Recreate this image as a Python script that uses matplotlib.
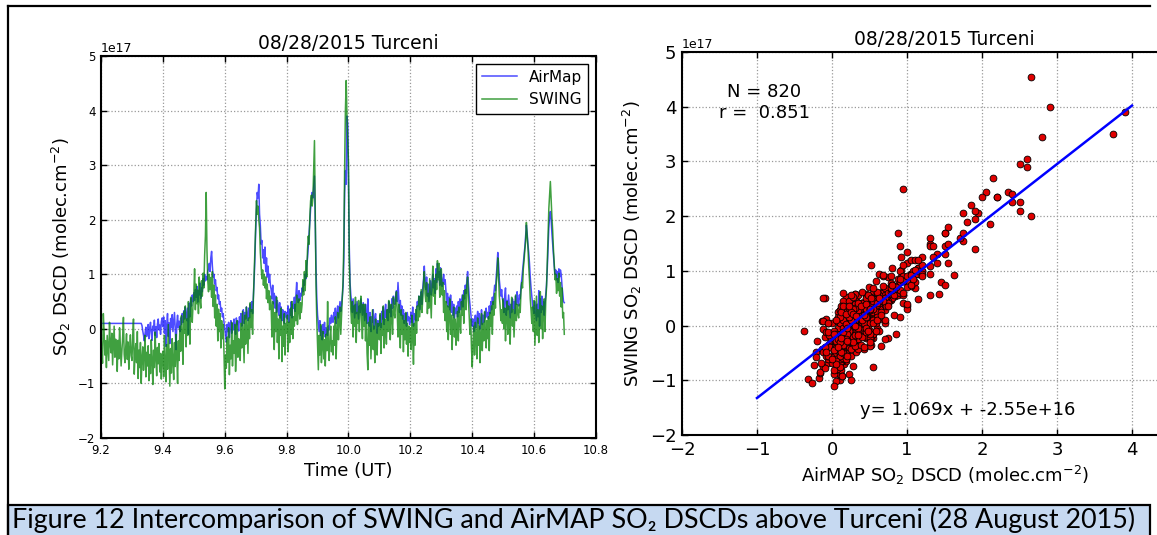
#!/usr/bin/env python3
"""Intercomparison of SWING and AirMAP SO2 DSCDs above Turceni (28 August 2015)."""

import matplotlib

matplotlib.use("Agg")
import matplotlib.pyplot as plt
import numpy as np
from matplotlib.lines import Line2D
from matplotlib.patches import Rectangle

# sampling clock of the flight (hours UT)
T_START = 9.2
T_STEP = 0.0025

# SO2 DSCD in units of 1e17 molec/cm2, one row = 0.05 h
AIRMAP = [
    0.1, 0.1, 0.1, 0.1, 0.1, 0.1, 0.1, 0.1, 0.1, 0.1, 0.1, 0.1, 0.1, 0.1, 0.1, 0.1, 0.1, 0.1, 0.1, 0.1,
    0.1, 0.1, 0.1, 0.1, 0.1, 0.1, 0.1, 0.1, 0.1, 0.1, 0.1, 0.1, 0.1, 0.1, 0.1, 0.1, 0.1, 0.1, 0.1, 0.1,
    0.1, 0.1, 0.1, 0.1, 0.1, 0.1, 0.1, 0.1, 0.1, 0.1, 0.1, 0.1, 0.1, 0.06, -0.04, -0.12, -0.22, -0.08, 0.03, -0.14,
    -0.06, 0.08, -0.18, 0.02, 0.12, -0.09, -0.21, 0.05, -0.03, 0.16, -0.12, 0.04, -0.16, 0.09, 0.18, -0.02, 0.07, -0.1, 0.13, 0.2,
    0.04, 0.22, -0.08, 0.15, -0.32, 0.07, 0.28, -0.14, 0.11, -0.27, 0.19, 0.02, 0.26, -0.05, 0.13, 0.3, 0.0, -0.38, 0.09, 0.25,
    0.02, 0.14, -0.05, 0.2, 0.08, 0.28, 0.12, 0.33, 0.18, 0.4, 0.25, 0.15, 0.38, -0.1, 0.47, 0.22, 0.55, 0.42, 0.62, 0.5,
    0.66, 0.52, 0.72, 0.58, 0.78, 0.49, 0.7, 0.62, 0.84, 0.56, 0.75, 0.68, 0.92, 0.8, 1.0, 0.88, 0.95, 0.9, 1.05, 1.1,
    1.2, 1.05, 1.3, 1.42, 1.15, 0.95, 1.0, 0.82, 0.9, 0.7, 0.76, 0.55, 0.62, 0.45, 0.5, 0.32, 0.38, 0.22, 0.28, 0.12,
    0.02, -0.12, -0.24, 0.08, -0.05, 0.12, -0.16, 0.04, 0.15, -0.08, 0.1, -0.02, 0.18, 0.05, -0.1, 0.2, 0.08, 0.14, -0.04, 0.22,
    0.12, 0.28, 0.05, 0.22, 0.35, 0.1, 0.3, 0.18, 0.4, 0.25, 0.15, 0.38, 0.2, 0.45, 0.32, 0.5, 0.28, 0.6, 0.9, 1.3,
    1.8, 2.2, 2.5, 2.4, 2.65, 2.1, 1.9, 1.55, 1.62, 1.3, 1.45, 1.2, 1.5, 1.05, 1.3, 0.95, 1.15, 0.85, 1.0, 0.8,
    0.72, 0.55, 0.8, 0.46, 0.65, 0.38, 0.6, 0.3, 0.52, 0.42, 0.25, 0.48, 0.2, 0.4, 0.15, 0.35, 0.28, 0.1, 0.32, 0.22,
    0.3, 0.18, 0.42, 0.12, 0.35, 0.25, 0.5, 0.2, 0.45, 0.38, 0.58, 0.32, 0.62, 0.85, 0.55, 0.48, 0.7, 0.52, 0.65, 0.6,
    0.75, 0.68, 0.88, 0.8, 1.0, 0.92, 1.15, 1.3, 1.5, 1.75, 1.95, 2.2, 2.35, 2.5, 2.4, 2.6, 2.8, 1.9, 1.1, 0.55,
    0.25, 0.1, -0.05, 0.15, -0.12, 0.05, -0.2, 0.08, -0.08, 0.12, -0.15, 0.02, -0.1, -0.12, 0.05, -0.02, 0.2, 0.1, 0.25, 0.15,
    0.12, 0.3, 0.18, 0.38, 0.1, 0.28, 0.42, 0.2, 0.35, 0.5, 0.32, 0.45, 0.6, 0.78, 1.3, 2.5, 2.9, 2.65, 3.9, 3.75,
    2.6, 1.5, 0.85, 0.62, 0.48, 0.3, 0.55, 0.38, 0.2, 0.45, 0.28, 0.5, 0.35, 0.18, 0.42, 0.3, 0.55, 0.4, 0.25, 0.48,
    0.32, 0.15, 0.45, 0.25, 0.1, 0.55, 0.2, 0.05, 0.3, -0.05, 0.22, 0.12, 0.35, 0.0, 0.18, 0.28, 0.08, -0.08, 0.15, 0.05,
    0.12, 0.25, 0.02, 0.32, 0.18, 0.4, 0.08, 0.28, 0.45, 0.2, 0.35, 0.15, 0.5, 0.3, 0.42, 0.22, 0.55, 0.38, 0.6, 0.48,
    0.45, 0.62, 0.7, 0.5, 0.85, 0.58, 0.3, 0.52, 0.25, 0.42, 0.18, 0.35, 0.1, 0.28, 0.2, 0.05, 0.3, 0.15, 0.22, 0.08,
    0.18, 0.3, 0.12, 0.4, 0.05, 0.28, 0.2, 0.15, 0.38, 0.5, 0.42, 0.6, 0.35, 0.55, 0.68, 0.45, 0.75, 0.9, 1.15, 0.85,
    0.72, 0.95, 0.6, 0.82, 0.5, 0.68, 0.88, 0.62, 0.78, 1.0, 0.75, 0.92, 0.65, 1.1, 0.85, 1.2, 0.95, 1.05, 0.8, 1.12,
    0.95, 0.78, 0.88, 1.0, 0.82, 0.9, 0.7, 0.48, 0.65, 0.4, 0.58, 0.35, 0.62, 0.3, 0.5, 0.25, 0.45, 0.2, 0.38, 0.28,
    0.42, 0.22, 0.5, 0.3, 0.55, 0.35, 0.48, 0.62, 0.4, 0.7, 0.55, 0.8, 0.65, 0.9, 1.05, 0.82, 0.6, 0.45, 0.3, 0.15,
    0.05, 0.18, -0.05, 0.12, 0.25, 0.02, 0.2, 0.32, 0.1, 0.28, 0.0, 0.15, 0.35, 0.08, 0.25, 0.12, 0.3, 0.2, 0.38, 0.22,
    0.3, 0.18, 0.42, 0.28, 0.5, 0.35, 0.58, 0.45, 0.65, 0.8, 0.7, 0.95, 1.15, 1.4, 1.2, 0.9, 0.75, 0.6, 0.72, 0.55,
    0.48, 0.3, 0.6, 0.75, 0.25, 0.52, 0.35, 0.62, 0.4, 0.2, 0.45, 0.3, 0.55, 0.38, 0.5, 0.28, 0.6, 0.45, 0.68, 0.5,
    0.42, 0.62, 0.55, 0.78, 0.9, 1.05, 1.2, 1.35, 1.5, 1.7, 1.9, 1.75, 1.55, 1.4, 1.2, 0.95, 0.75, 0.6, 0.45, 0.35,
    0.28, 0.5, 0.32, 0.15, 0.45, 0.22, 0.7, 0.05, 0.55, 0.3, 0.6, 0.35, 0.5, 0.25, 0.45, 0.62, 0.8, 1.1, 1.5, 1.85,
    2.05, 2.15, 2.0, 1.75, 1.55, 1.35, 1.15, 1.0, 1.08, 0.9, 1.05, 0.85, 1.1, 0.95, 1.08, 1.0, 0.8, 0.65, 0.5, 0.48,
]
SWING = [
    -0.15, -0.42, -0.63, 0.28, -0.05, -0.48, -0.22, -0.71, -0.12, -0.35, -0.58, 0.12, -0.27, -0.44, -0.08, -0.66, -0.31, 0.05, -0.52, -0.19,
    -0.37, -0.78, -0.21, -0.55, 0.02, -0.29, -0.68, -0.41, -0.15, 0.21, -0.47, -0.62, -0.33, -0.09, -0.56, -0.24, -0.74, -0.38, -0.11, -0.49,
    -0.58, -0.16, 0.18, -0.83, -0.46, -0.27, -0.62, -0.05, -0.91, -0.39, -0.71, -0.25, -1.0, -0.54, -0.33, -0.76, -0.48, -0.12, -0.88, -0.43,
    -0.68, -0.31, -0.95, -0.47, -0.82, -0.2, -0.58, -1.02, -0.39, -0.71, -0.06, -0.53, -0.86, -0.34, -0.64, -0.27, -0.79, -0.45, -0.92, -0.5,
    -0.41, -0.88, -0.12, -0.63, -0.97, -0.29, -0.74, 0.08, -0.52, -1.05, -0.36, -0.81, -0.18, -0.6, -0.93, -0.25, -0.69, -0.1, -0.47, -1.0,
    -0.22, -0.58, 0.05, -0.41, 0.24, -0.17, -0.65, 0.31, -0.08, 0.42, -0.33, 0.18, -0.12, 0.5, 0.07, -0.28, 0.58, 0.26, 0.12, 0.45,
    0.62, 1.1, 0.35, 0.82, 0.46, 0.71, 0.28, 0.95, 0.54, 0.38, 0.88, 0.6, 1.02, 0.75, 1.35, 1.7, 2.5, 1.45, 0.9, 0.68,
    1.0, 0.72, 0.94, 0.58, 1.05, 0.41, 0.8, 0.2, 0.62, 0.05, 0.45, -0.22, 0.36, -0.05, 0.28, -0.35, 0.15, -0.18, 0.08, -0.42,
    -1.1, -0.48, -0.72, -0.15, -0.61, 0.02, -0.84, -0.3, -0.55, 0.12, -0.68, -0.22, -0.45, 0.08, -0.78, -0.36, 0.15, -0.52, -0.18, -0.4,
    -0.58, 0.1, -0.35, 0.32, -0.12, -0.62, 0.25, -0.28, 0.4, -0.05, -0.45, 0.2, -0.18, 0.48, 0.02, 0.35, -0.1, 0.55, 1.0, 1.5,
    1.9, 2.35, 2.1, 2.25, 2.0, 1.85, 1.4, 1.15, 0.92, 1.08, 0.8, 1.0, 0.75, 0.95, 0.55, 0.82, 0.48, 0.7, 0.35, 0.6,
    0.42, -0.15, 0.5, 0.1, -0.38, 0.3, -0.05, 0.58, -0.25, 0.18, -0.55, 0.25, -0.12, 0.38, -0.6, 0.05, -0.32, 0.28, -0.48, 0.1,
    -0.08, 0.25, -0.42, 0.12, -0.25, 0.38, -0.1, 0.5, -0.18, 0.22, 0.05, 0.45, 0.15, 0.62, 0.08, 0.35, 0.55, 0.18, 0.48, 0.3,
    0.45, 0.9, 0.62, 1.05, 0.7, 1.25, 0.95, 1.45, 1.7, 1.55, 2.05, 2.35, 2.45, 2.25, 2.4, 2.9, 3.45, 2.1, 0.8, 0.15,
    -0.3, -0.75, -0.12, -0.48, 0.08, -0.62, -0.28, -0.05, -0.55, -0.2, -0.68, -0.1, -0.4, 0.5, -0.35, -0.58, -0.15, 0.05, -0.42, -0.22,
    -0.48, 0.05, -0.3, 0.22, -0.55, -0.08, 0.3, -0.2, 0.15, 0.4, -0.1, 0.25, 0.55, 0.9, 1.6, 2.95, 4.0, 4.55, 3.9, 3.5,
    3.05, 1.3, 0.7, 0.35, 0.1, 0.5, -0.15, 0.42, 0.05, 0.58, -0.25, 0.3, 0.1, 0.52, -0.05, 0.38, 0.6, 0.15, -0.18, 0.45,
    0.05, 0.45, -0.22, 0.28, -0.45, -0.75, 0.12, -0.3, 0.22, -0.55, -0.1, 0.35, -0.38, 0.05, -0.62, 0.18, -0.25, -0.48, 0.1, -0.15,
    -0.2, 0.28, -0.45, 0.1, -0.12, 0.42, -0.35, 0.18, 0.05, -0.28, 0.35, -0.05, 0.52, 0.12, -0.2, 0.45, 0.25, -0.1, 0.58, 0.3,
    0.2, 0.55, 0.68, 0.3, -0.15, 0.45, 0.08, -0.35, 0.35, -0.1, 0.25, -0.42, 0.15, -0.2, 0.3, -0.28, 0.1, -0.5, 0.05, -0.25,
    0.02, -0.38, 0.25, -0.15, -0.65, 0.1, -0.3, 0.35, -0.08, 0.42, 0.15, 0.6, 0.22, 0.48, 0.72, 0.3, 0.55, 0.85, 1.05, 0.65,
    0.5, 0.85, 0.28, 0.65, 0.38, 0.92, 0.55, 0.2, 0.78, 1.15, 0.6, 0.88, 0.45, 1.0, 0.72, 1.25, 0.9, 1.2, 0.58, 0.95,
    1.1, 0.62, 0.85, 0.3, 0.7, 0.15, 0.5, -0.05, 0.42, -0.2, 0.3, 0.55, -0.1, 0.25, -0.38, 0.12, 0.4, -0.15, 0.18, -0.3,
    0.05, 0.32, -0.22, 0.4, 0.12, -0.08, 0.5, 0.25, 0.62, 0.1, 0.45, 0.72, 0.35, 0.8, 0.95, 0.55, 0.25, -0.1, 0.18, -0.35,
    -0.7, -0.25, 0.05, -0.48, 0.12, -0.15, -0.55, 0.2, -0.3, 0.05, -0.62, -0.12, 0.28, -0.4, 0.1, -0.22, 0.32, -0.05, -0.35, 0.15,
    -0.18, 0.22, -0.4, 0.3, 0.05, 0.42, -0.1, 0.5, 0.25, 0.65, 0.38, 0.82, 1.0, 1.3, 0.95, 0.6, 0.42, 0.15, 0.35, 0.1,
    0.55, 0.0, 0.38, -0.22, 0.25, 0.5, -0.1, 0.42, 0.1, -0.28, 0.3, 0.58, 0.05, 0.35, -0.15, 0.22, 0.62, 0.15, 0.45, 0.28,
    0.2, 0.45, 0.3, 0.68, 0.85, 0.75, 1.1, 1.25, 1.45, 1.6, 1.95, 1.7, 1.5, 1.15, 0.9, 0.55, 0.35, 0.1, 0.4, -0.05,
    0.52, -0.3, 0.18, 0.6, -0.12, 0.35, -0.25, 0.1, 0.68, 0.0, 0.42, -0.18, 0.3, 0.55, -0.05, 0.5, 0.75, 1.2, 1.7, 2.2,
    2.45, 2.7, 2.35, 2.05, 1.8, 1.45, 1.2, 0.9, 1.0, 0.65, 0.92, 0.7, 1.02, 0.6, 0.85, 0.4, 0.75, 0.2, 0.3, -0.1,
]
SCALE = 1e17

# fit and stats as printed on the right panel
FIT_SLOPE = 1.069
FIT_INTERCEPT = -2.55e16
FIT_X_RANGE = [-1.0, 4.0]
STATS_TEXT = "N = 820\nr =  0.851"
FIT_TEXT = "y= 1.069x + -2.55e+16"

TITLE = "08/28/2015 Turceni"
CAPTION = "Figure 12 Intercomparison of SWING and AirMAP SO\u2082 DSCDs above Turceni (28 August 2015)"

W, H = 1157, 535


def px_box(left, top, right, bottom):
    return [left / W, 1 - bottom / H, (right - left) / W, (bottom - top) / H]


def style_axes(ax, ticksize):
    for spine in ax.spines.values():
        spine.set_linewidth(1.5)
        spine.set_color("black")
    ax.tick_params(direction="in", length=4, width=1, top=True, right=True,
                   labelsize=ticksize, pad=4)
    ax.grid(True, color="0.6", linestyle=":", linewidth=0.9)
    ax.yaxis.get_offset_text().set_fontsize(9)


def plot_timeseries(fig):
    ax = fig.add_axes(px_box(101, 56, 596, 438))
    time_ut = T_START + T_STEP * np.arange(len(AIRMAP))
    ax.plot(time_ut, np.array(AIRMAP) * SCALE, color="#0000ff", alpha=0.7, lw=1.1, label="AirMap")
    ax.plot(time_ut, np.array(SWING) * SCALE, color="#008000", alpha=0.75, lw=1.1, label="SWING")
    ax.set_xlim(9.2, 10.8)
    ax.set_ylim(-2 * SCALE, 5 * SCALE)
    ax.set_xticks(np.arange(9.2, 10.81, 0.2))
    style_axes(ax, 8.5)
    ax.set_title(TITLE, fontsize=13.5, pad=5)
    ax.set_xlabel("Time (UT)", fontsize=13)
    ax.set_ylabel("SO$_2$ DSCD (molec.cm$^{-2}$)", fontsize=13)
    leg = ax.legend(loc="upper right", fancybox=False, fontsize=11, handlelength=2.3,
                    borderaxespad=0.5, framealpha=1)
    leg.get_frame().set_edgecolor("black")
    return ax


def plot_scatter(fig):
    ax = fig.add_axes(px_box(682, 52, 1207, 435))
    ax.scatter(np.array(AIRMAP) * SCALE, np.array(SWING) * SCALE, s=24, c="#e00000",
               edgecolors="black", linewidths=0.6, zorder=3)
    fit_x = np.array(FIT_X_RANGE) * SCALE
    ax.plot(fit_x, FIT_SLOPE * fit_x + FIT_INTERCEPT, color="#0000ff", lw=1.8, zorder=4)
    ax.set_xlim(-2 * SCALE, 5 * SCALE)
    ax.set_ylim(-2 * SCALE, 5 * SCALE)
    ax.set_xticks(np.arange(-2, 5) * SCALE)
    style_axes(ax, 13)
    ax.xaxis.get_offset_text().set_visible(False)
    ax.set_title(TITLE, fontsize=13.5, pad=5)
    ax.set_xlabel("AirMAP SO$_2$ DSCD (molec.cm$^{-2}$)", fontsize=13)
    ax.set_ylabel("SWING SO$_2$ DSCD (molec.cm$^{-2}$)", fontsize=13)
    ax.text(-0.9 * SCALE, 4.08 * SCALE, STATS_TEXT, ha="center", va="center",
            multialignment="center", fontsize=13)
    ax.text(0.38 * SCALE, -1.55 * SCALE, FIT_TEXT, ha="left", va="center", fontsize=13)
    return ax


def draw_frame(fig):
    fig.add_artist(Line2D([8 / W, 1150 / W], [1 - 6 / H, 1 - 6 / H], color="black", lw=1.6))
    fig.add_artist(Line2D([8 / W, 8 / W], [0, 1 - 6 / H], color="black", lw=1.6))
    fig.add_artist(Rectangle((8 / W, -0.01), 1142 / W, 30 / H + 0.01, facecolor="#c6d9f1",
                             edgecolor="black", lw=1.6, transform=fig.transFigure))
    fig.text(12 / W, 1 - 520 / H, CAPTION, fontsize=19.4, va="center", ha="left",
             family=["Lato", "DejaVu Sans"])


def main():
    assert len(AIRMAP) == len(SWING)
    fig = plt.figure(figsize=(W / 100, H / 100), dpi=100)
    plot_timeseries(fig)
    plot_scatter(fig)
    draw_frame(fig)
    fig.savefig("out.png", dpi=100)
    plt.close(fig)


if __name__ == "__main__":
    main()
